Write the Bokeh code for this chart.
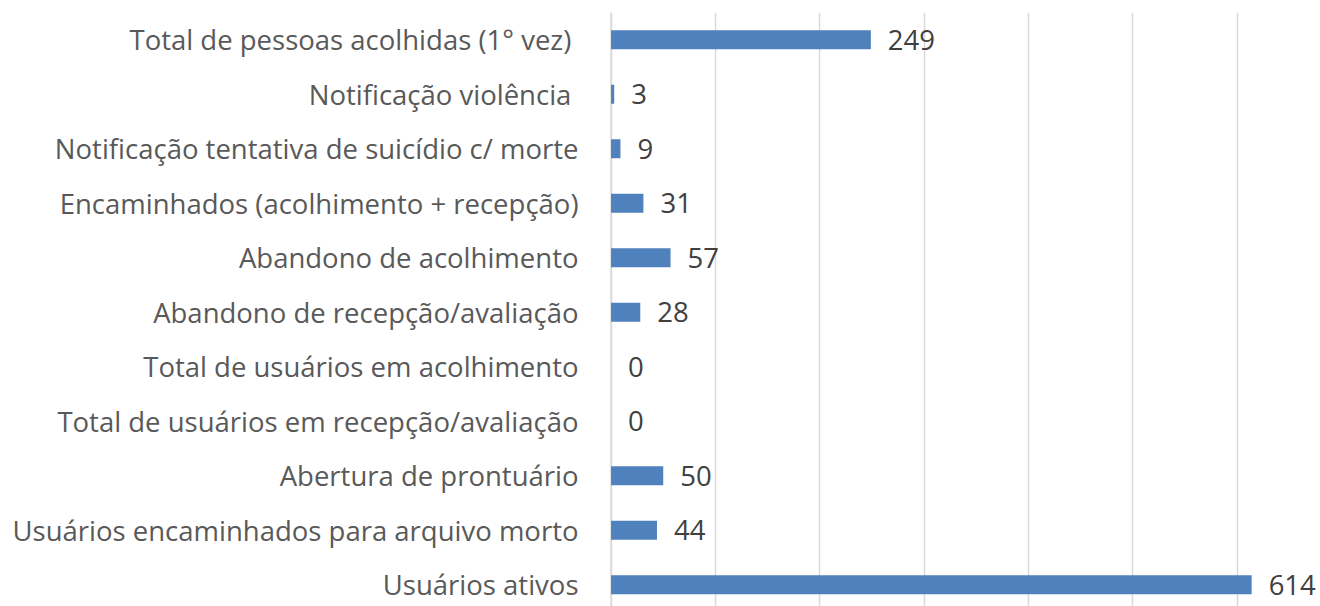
from bokeh.plotting import figure
from bokeh.models import ColumnDataSource, Range1d, FixedTicker, LabelSet, Span
from bokeh.core.properties import value
from bokeh.embed import file_html
from bokeh.resources import INLINE

categories = [
    "Total de pessoas acolhidas (1° vez) ",
    "Notificação violência ",
    "Notificação tentativa de suicídio c/ morte",
    "Encaminhados (acolhimento + recepção)",
    "Abandono de acolhimento",
    "Abandono de recepção/avaliação",
    "Total de usuários em acolhimento",
    "Total de usuários em recepção/avaliação",
    "Abertura de prontuário",
    "Usuários encaminhados para arquivo morto",
    "Usuários ativos",
]
values = [249, 3, 9, 31, 57, 28, 0, 0, 50, 44, 614]
x_ticks = [0, 100, 200, 300, 400, 500, 600]

n = len(categories)
ypos = [n - 1 - i for i in range(n)]
src = ColumnDataSource(dict(y=ypos, v=values, lab=[str(v) for v in values]))

FONT = "Open Sans"
FS = "27.5px"

p = figure(width=1320, height=606, output_backend="svg", toolbar_location=None,
           x_range=Range1d(-1.5, 680), y_range=Range1d(-0.40, n - 0.5),
           min_border_left=609, min_border_right=0, min_border_top=12, min_border_bottom=0)
p.outline_line_color = None
p.background_fill_color = "white"

p.xgrid.ticker = FixedTicker(ticks=x_ticks)
p.xgrid.grid_line_color = "#D9D9D9"
p.xgrid.grid_line_width = 1.5
p.ygrid.grid_line_color = None
p.add_layout(Span(location=x_ticks[0], dimension="height",
                  line_color="#D9D9D9", line_width=1.5, level="underlay"))

p.hbar(y="y", right="v", left=0, height=0.35, source=src,
       fill_color="#4F81BD", line_color=None)

labels = LabelSet(x="v", y="y", text="lab", source=src, x_offset=17, y_offset=0,
                  text_align="left", text_baseline="middle",
                  text_font=value(FONT), text_font_size=FS, text_color="#404040")
p.add_layout(labels)

p.xaxis.visible = False

p.yaxis.ticker = FixedTicker(ticks=ypos)
p.yaxis.major_label_overrides = {y: c for y, c in zip(ypos, categories)}
p.yaxis.axis_line_color = None
p.yaxis.major_tick_line_color = None
p.yaxis.minor_tick_line_color = None
p.yaxis.major_label_standoff = 25
p.yaxis.major_label_text_font = FONT
p.yaxis.major_label_text_font_size = FS
p.yaxis.major_label_text_color = "#595959"

open("out.html", "w").write(file_html(p, INLINE))
